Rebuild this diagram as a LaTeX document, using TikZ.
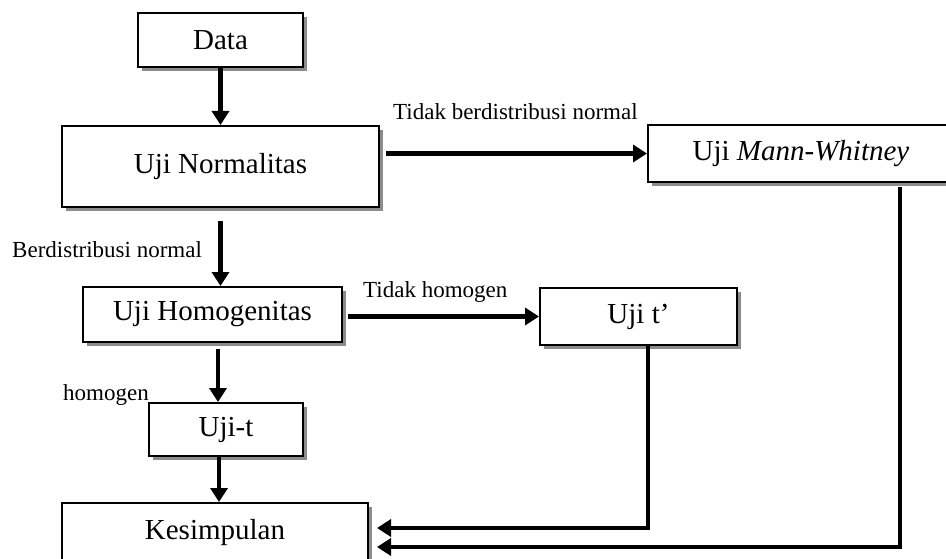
\documentclass[tikz,border=0pt]{standalone}
\usepackage{fontspec}
\setmainfont{Liberation Serif}
\usetikzlibrary{arrows.meta,shadows,calc}
\begin{document}
\begin{tikzpicture}[x=1pt,y=-1pt,
  box/.style={draw=black,line width=2pt,fill=white,inner sep=0pt,
    font=\fontsize{29}{34}\selectfont,
    drop shadow={shadow xshift=4pt,shadow yshift=-4pt,fill=black!45,opacity=1}},
  lbl/.style={inner sep=0pt,anchor=base west,font=\fontsize{23}{28}\selectfont},
  arr/.style={line width=4.5pt,-{Triangle[length=14pt,width=17pt]}}]
\useasboundingbox (0,0) rectangle (946,559);
\node[box,minimum width=165pt,minimum height=54pt] (data) at (220.5,40) {Data};
\node[box,minimum width=317pt,minimum height=81pt] (norm) at (220.5,166.5) {Uji Normalitas};
\node[box,minimum width=306pt,minimum height=57pt] (mw) at (801,153.5) {Uji \textit{Mann-Whitney}};
\node[box,minimum width=259pt,minimum height=55pt] (homog) at (212.5,314.5) {Uji Homogenitas};
\node[box,minimum width=197pt,minimum height=57pt] (ujitp) at (638.5,316.5) {Uji t’};
\node[box,minimum width=154pt,minimum height=53pt] (ujit) at (226,429.5) {Uji-t};
\node[box,minimum width=306pt,minimum height=60pt] (kes) at (215,533) {Kesimpulan};

\node[lbl] (l1) at (393,120) {Tidak berdistribusi normal};
\node[lbl] (l2) at (12,258) {Berdistribusi normal};
\node[lbl] (l3) at (363,297) {Tidak homogen};
\node[lbl] (l4) at (63,400) {homogen};

\draw[arr] (data.south) -- (data.south |- norm.north);
\draw[arr] ([yshift=-13pt]norm.south) -- (norm.south |- homog.north);
\draw[arr] ([xshift=5.5pt,yshift=-6pt]homog.south) -- ([xshift=5.5pt]homog.south |- ujit.north);
\draw[arr] ([xshift=-7pt]ujit.south) -- ([xshift=-7pt]ujit.south |- kes.north);
\draw[arr] ([xshift=6pt]norm.east |- mw.west) -- (mw.west);
\draw[arr] ([xshift=5pt]homog.east |- ujitp.west) -- (ujitp.west);
\draw[arr] ([xshift=9.5pt]ujitp.south) |- ([xshift=8pt,yshift=5pt]kes.east);
\draw[arr] ([xshift=99pt,yshift=-4pt]mw.south) |- ([xshift=8pt,yshift=-14pt]kes.east);
\end{tikzpicture}
\end{document}
